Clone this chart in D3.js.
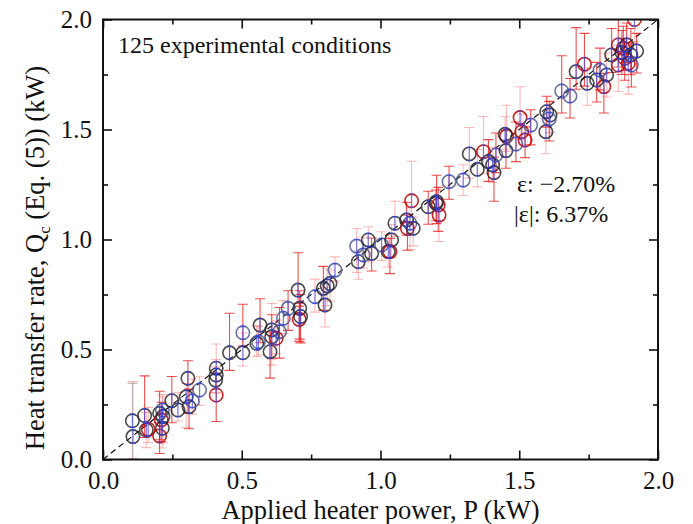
<!DOCTYPE html>
<html>
<head>
<meta charset="utf-8">
<script src="https://cdn.jsdelivr.net/npm/d3@7"></script>
<style>
    body { margin: 0; background: #fff; }
    text { font-family: "Liberation Serif", "Times New Roman", serif; fill: #111; }
</style>
</head>
<body>
<div id="chart"></div>
<script>
// applied heater power P (kW) for each condition
let heaterPower = [0.108, 0.106, 0.150, 0.156, 0.163, 0.204, 0.210, 0.214, 0.204, 0.214,
    0.248, 0.270, 0.306, 0.300, 0.310, 0.322, 0.348, 0.408, 0.408, 0.408,
    0.406, 0.456, 0.504, 0.504, 0.566, 0.554, 0.608, 0.608, 0.624, 0.636,
    0.602, 0.650, 0.667, 0.703, 0.709, 0.707, 0.764, 0.800, 0.794, 0.808,
    0.818, 0.836, 0.914, 0.920, 0.938, 0.956, 0.968, 1.004, 1.028, 1.040,
    1.034, 1.052, 1.094, 1.106, 1.097, 1.118, 1.112, 1.172, 1.202, 1.208,
    1.211, 1.247, 1.298, 1.320, 1.349, 1.371, 1.389, 1.404, 1.409, 1.416,
    1.452, 1.454, 1.488, 1.449, 1.503, 1.509, 1.521, 1.541, 1.599, 1.611,
    1.608, 1.596, 1.653, 1.683, 1.705, 1.735, 1.745, 1.779, 1.791, 1.805,
    1.815, 1.833, 1.857, 1.857, 1.875, 1.887, 1.880, 1.902, 1.893, 1.923,
    1.915, 1.904, 0.216, 0.712, 1.870, 1.200, 0.560];

// heat transfer rate Qc from Eq. (5) (kW)
let heatRate = [0.104, 0.176, 0.200, 0.134, 0.137, 0.210, 0.180, 0.142, 0.107, 0.225,
    0.267, 0.225, 0.369, 0.285, 0.240, 0.266, 0.316, 0.293, 0.415, 0.384,
    0.361, 0.485, 0.485, 0.576, 0.611, 0.528, 0.589, 0.558, 0.551, 0.581,
    0.490, 0.642, 0.687, 0.770, 0.687, 0.637, 0.740, 0.702, 0.778, 0.789,
    0.800, 0.861, 0.970, 0.899, 0.930, 0.998, 0.937, 0.975, 0.945, 0.998,
    0.945, 1.074, 1.089, 1.074, 1.051, 1.051, 1.176, 1.149, 1.172, 1.157,
    1.111, 1.263, 1.270, 1.389, 1.319, 1.399, 1.354, 1.339, 1.304, 1.384,
    1.404, 1.470, 1.434, 1.478, 1.554, 1.490, 1.452, 1.520, 1.581, 1.566,
    1.548, 1.490, 1.675, 1.652, 1.763, 1.797, 1.710, 1.725, 1.770, 1.695,
    1.748, 1.839, 1.884, 1.793, 1.869, 1.884, 1.824, 1.839, 1.801, 1.857,
    2.000, 1.793, 0.195, 0.650, 1.850, 1.165, 0.535];

// uncertainty above / below each value (kW)
let errUp = [0.25, 0.17, 0.18, 0.08, 0.10, 0.10, 0.08, 0.07, 0.06, 0.07,
    0.11, 0.08, 0.08, 0.06, 0.08, 0.10, 0.06, 0.10, 0.11, 0.07,
    0.06, 0.18, 0.09, 0.13, 0.12, 0.08, 0.12, 0.10, 0.08, 0.11,
    0.09, 0.08, 0.08, 0.17, 0.08, 0.06, 0.08, 0.08, 0.10, 0.08,
    0.06, 0.06, 0.08, 0.05, 0.08, 0.06, 0.07, 0.06, 0.08, 0.07,
    0.06, 0.10, 0.08, 0.07, 0.06, 0.05, 0.18, 0.07, 0.12, 0.08,
    0.05, 0.07, 0.07, 0.12, 0.09, 0.16, 0.10, 0.08, 0.07, 0.10,
    0.09, 0.14, 0.10, 0.08, 0.14, 0.08, 0.06, 0.07, 0.07, 0.06,
    0.08, 0.06, 0.16, 0.08, 0.20, 0.14, 0.07, 0.08, 0.10, 0.06,
    0.10, 0.12, 0.12, 0.09, 0.10, 0.10, 0.09, 0.12, 0.08, 0.08,
    0.10, 0.10, 0.09, 0.10, 0.10, 0.06, 0.07];

let errDown = [0.10, 0.18, 0.10, 0.08, 0.06, 0.12, 0.10, 0.09, 0.08, 0.10,
    0.10, 0.05, 0.16, 0.14, 0.10, 0.06, 0.07, 0.12, 0.06, 0.08,
    0.06, 0.08, 0.06, 0.06, 0.08, 0.06, 0.16, 0.10, 0.07, 0.12,
    0.12, 0.07, 0.10, 0.06, 0.14, 0.10, 0.07, 0.10, 0.10, 0.09,
    0.08, 0.05, 0.12, 0.08, 0.06, 0.10, 0.08, 0.07, 0.07, 0.08,
    0.10, 0.06, 0.07, 0.12, 0.10, 0.08, 0.07, 0.08, 0.10, 0.12,
    0.12, 0.08, 0.07, 0.11, 0.08, 0.10, 0.09, 0.08, 0.13, 0.08,
    0.08, 0.07, 0.08, 0.07, 0.10, 0.06, 0.08, 0.09, 0.07, 0.08,
    0.10, 0.10, 0.10, 0.10, 0.08, 0.10, 0.10, 0.10, 0.09, 0.12,
    0.10, 0.08, 0.10, 0.12, 0.10, 0.08, 0.10, 0.09, 0.14, 0.10,
    0.10, 0.10, 0.12, 0.12, 0.10, 0.08, 0.06];

// ring colour: k = dark grey, r = red, b = blue-grey
let ringType = "kkkkrkrkrbkkkkkbbrkkkkkbkkkkrbkbbkkrbkkkkbbkbkkbkkrkkbrkrkkrrbbkkrkkkbkrbkrrrbkkbkbbkrkkbrkkrrrkrkrkrbkkkkb";

// error bar tone: s = strong red, l = light red, g = grey
let barType = "lgsllsslsl" + "slslsllsll" + "lslssllsls" + "slsssslls" + "ll" + "lllllslllsl" + "slsllsssls" + "llllslsssl" + "slllssslsls" + "ssslssslss" + "lsssslsl" + "slsss";

let xTicks = [0.0, 0.5, 1.0, 1.5, 2.0];
let yTicks = [0.0, 0.5, 1.0, 1.5, 2.0];
let minorTicks = [0.25, 0.75, 1.25, 1.75];

let annotationCount = "125 experimental conditions";
let annotationMean = "\u03b5: \u22122.70%";
let annotationAbs = "|\u03b5|: 6.37%";

let margin = {top: 19.5, left: 103};
let plotWidth = 555;
let plotHeight = 440;

let data = heaterPower.map(function (p, i) {
    return {
        p: p,
        q: heatRate[i],
        up: errUp[i],
        down: errDown[i],
        ring: ringType[i] || "k",
        bar: barType[i] || "l"
    };
});

let x = d3.scaleLinear().domain([0, 2]).range([0, plotWidth]);
let y = d3.scaleLinear().domain([0, 2]).range([plotHeight, 0]);

let svg = d3.select("#chart")
    .append("svg")
    .attr("width", 693)
    .attr("height", 524);

svg.append("defs")
    .append("clipPath")
    .attr("id", "plot-clip")
    .append("rect")
    .attr("width", plotWidth)
    .attr("height", plotHeight);

let g = svg.append("g")
    .attr("transform", "translate(" + margin.left + "," + margin.top + ")");

let plot = g.append("g").attr("clip-path", "url(#plot-clip)");

// parity line
plot.append("line")
    .attr("x1", x(0)).attr("y1", y(0))
    .attr("x2", x(2)).attr("y2", y(2))
    .attr("stroke", "#111")
    .attr("stroke-width", 1.2)
    .attr("stroke-dasharray", "6,4");

let barColor = {s: "rgba(235,20,20,0.75)", l: "rgba(240,60,60,0.35)", g: "rgba(120,120,120,0.45)"};
let ringColor = {k: "rgba(30,30,30,0.8)", r: "rgba(190,0,0,0.85)", b: "rgba(70,80,140,0.8)"};

// uncertainty bars
let bars = plot.append("g")
    .selectAll("g")
    .data(data)
    .enter()
    .append("g")
    .attr("stroke", function (d) { return barColor[d.bar]; })
    .attr("stroke-width", 1.1);

bars.append("line")
    .attr("x1", function (d) { return x(d.p); })
    .attr("x2", function (d) { return x(d.p); })
    .attr("y1", function (d) { return y(d.q + d.up); })
    .attr("y2", function (d) { return y(d.q - d.down); });

bars.append("line")
    .attr("x1", function (d) { return x(d.p) - 5; })
    .attr("x2", function (d) { return x(d.p) + 5; })
    .attr("y1", function (d) { return y(d.q + d.up); })
    .attr("y2", function (d) { return y(d.q + d.up); });

bars.append("line")
    .attr("x1", function (d) { return x(d.p) - 5; })
    .attr("x2", function (d) { return x(d.p) + 5; })
    .attr("y1", function (d) { return y(d.q - d.down); })
    .attr("y2", function (d) { return y(d.q - d.down); });

// rings
plot.append("g")
    .selectAll("circle")
    .data(data)
    .enter()
    .append("circle")
    .attr("cx", function (d) { return x(d.p); })
    .attr("cy", function (d) { return y(d.q); })
    .attr("r", 6.7)
    .attr("fill", "none")
    .attr("stroke", function (d) { return ringColor[d.ring]; })
    .attr("stroke-width", 1.6);

// small blue bars inside the rings
let inner = plot.append("g")
    .attr("stroke", "rgba(40,70,255,0.6)")
    .attr("stroke-width", 1.2)
    .selectAll("g")
    .data(data)
    .enter()
    .append("g");

inner.append("line")
    .attr("x1", function (d) { return x(d.p); })
    .attr("x2", function (d) { return x(d.p); })
    .attr("y1", function (d) { return y(d.q + 0.03); })
    .attr("y2", function (d) { return y(d.q - 0.03); });

inner.append("line")
    .attr("x1", function (d) { return x(d.p) - 2.5; })
    .attr("x2", function (d) { return x(d.p) + 2.5; })
    .attr("y1", function (d) { return y(d.q + 0.03); })
    .attr("y2", function (d) { return y(d.q + 0.03); });

inner.append("line")
    .attr("x1", function (d) { return x(d.p) - 2.5; })
    .attr("x2", function (d) { return x(d.p) + 2.5; })
    .attr("y1", function (d) { return y(d.q - 0.03); })
    .attr("y2", function (d) { return y(d.q - 0.03); });

// axes, ticks pointing inward on all four sides
function styleAxis(sel) {
    sel.select(".domain").remove();
    sel.selectAll("line").attr("stroke", "#111").attr("stroke-width", 1.6);
    sel.selectAll("text")
        .style("font-family", "'Liberation Serif', serif")
        .style("font-size", "25px")
        .attr("fill", "#111");
}

g.append("g")
    .attr("transform", "translate(0," + plotHeight + ")")
    .call(d3.axisBottom(x).tickValues(xTicks).tickFormat(d3.format(".1f")).tickSize(-9).tickPadding(12))
    .call(styleAxis);

g.append("g")
    .attr("transform", "translate(0," + plotHeight + ")")
    .call(d3.axisBottom(x).tickValues(minorTicks).tickFormat("").tickSize(-5))
    .call(styleAxis);

g.append("g")
    .call(d3.axisTop(x).tickValues(xTicks).tickFormat("").tickSize(-9))
    .call(styleAxis);

g.append("g")
    .call(d3.axisTop(x).tickValues(minorTicks).tickFormat("").tickSize(-5))
    .call(styleAxis);

g.append("g")
    .call(d3.axisLeft(y).tickValues(yTicks).tickFormat(d3.format(".1f")).tickSize(-9).tickPadding(11))
    .call(styleAxis);

g.append("g")
    .call(d3.axisLeft(y).tickValues(minorTicks).tickFormat("").tickSize(-5))
    .call(styleAxis);

g.append("g")
    .attr("transform", "translate(" + plotWidth + ",0)")
    .call(d3.axisRight(y).tickValues(yTicks).tickFormat("").tickSize(-9))
    .call(styleAxis);

g.append("g")
    .attr("transform", "translate(" + plotWidth + ",0)")
    .call(d3.axisRight(y).tickValues(minorTicks).tickFormat("").tickSize(-5))
    .call(styleAxis);

// frame
g.append("rect")
    .attr("width", plotWidth)
    .attr("height", plotHeight)
    .attr("fill", "none")
    .attr("stroke", "#111")
    .attr("stroke-width", 2);

// annotations
g.append("text")
    .attr("x", 15)
    .attr("y", 33)
    .style("font-size", "24px")
    .text(annotationCount);

g.append("text")
    .attr("x", 414)
    .attr("y", 172)
    .style("font-size", "24px")
    .text(annotationMean);

g.append("text")
    .attr("x", 411)
    .attr("y", 202)
    .style("font-size", "24px")
    .text(annotationAbs);

// axis titles
svg.append("text")
    .attr("x", margin.left + plotWidth / 2)
    .attr("y", 519)
    .attr("text-anchor", "middle")
    .style("font-size", "26.5px")
    .text("Applied heater power, P (kW)");

let yTitle = svg.append("text")
    .attr("transform", "translate(44,258) rotate(-90)")
    .attr("text-anchor", "middle")
    .style("font-size", "26.5px");

yTitle.append("tspan").text("Heat transfer rate, Q");
yTitle.append("tspan").attr("dy", 6).style("font-size", "17px").text("c");
yTitle.append("tspan").attr("dy", -6).text(" (Eq. (5)) (kW)");
</script>
</body>
</html>
